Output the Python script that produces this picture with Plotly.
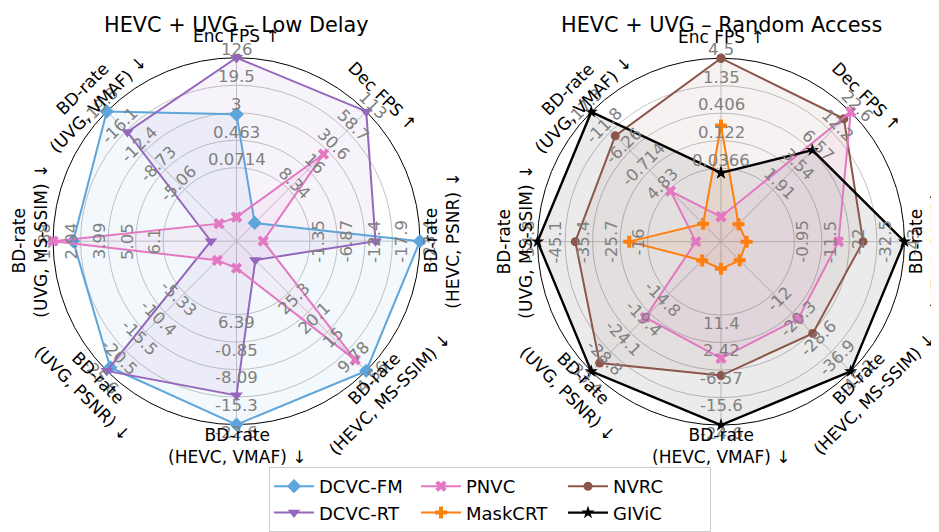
import math
import plotly.graph_objects as go

# page is photographed at 939x532; the html body adds an 8px margin
PAGE_W, PAGE_H, OFF = 939, 532, 8
FW, FH = PAGE_W - OFF, PAGE_H - OFF

# ---------------- data ----------------
categories = ["Enc FPS ↑", "Dec FPS ↑", "BD-rate (HEVC, PSNR) ↓", "BD-rate (HEVC, MS-SSIM) ↓",
              "BD-rate (HEVC, VMAF) ↓", "BD-rate (UVG, PSNR) ↓", "BD-rate (UVG, MS-SSIM) ↓",
              "BD-rate (UVG, VMAF) ↓"]
category_text = ["Enc FPS ↑", "Dec FPS ↑", "BD-rate<br>(HEVC, PSNR) ↓", "BD-rate<br>(HEVC, MS-SSIM) ↓",
                 "BD-rate<br>(HEVC, VMAF) ↓", "BD-rate<br>(UVG, PSNR) ↓", "BD-rate<br>(UVG, MS-SSIM) ↓",
                 "BD-rate<br>(UVG, VMAF) ↓"]
log_axis = [True, True, False, False, False, False, False, False]

ld_ticks = [
    ["0.0714", "0.463", "3", "19.5", "126"],
    ["8.34", "16", "30.6", "58.7", "113"],
    ["-1.35", "-6.87", "-12.4", "-17.9", "-23.4"],
    ["25.3", "20.1", "15", "9.78", "4.56"],
    ["6.39", "-0.85", "-8.09", "-15.3", "-22.6"],
    ["-5.33", "-10.4", "-15.5", "-20.5", "-25.6"],
    ["6.1", "5.05", "3.99", "2.94", "1.88"],
    ["-5.06", "-8.73", "-12.4", "-16.1", "-19.8"],
]
ra_ticks = [
    ["0.0366", "0.122", "0.406", "1.35", "4.5"],
    ["1.91", "3.54", "6.57", "12.2", "22.6"],
    ["-0.95", "-11.5", "-22", "-32.5", "-43"],
    ["-12", "-20.3", "-28.6", "-36.9", "-45.2"],
    ["11.4", "2.42", "-6.57", "-15.6", "-24.6"],
    ["-14.8", "-19.4", "-24.1", "-28.8", "-33.4"],
    ["-16", "-25.7", "-35.4", "-45.1", "-54.8"],
    ["4.83", "-0.714", "-6.26", "-11.8", "-17.3"],
]

# Low Delay
dcvc_fm_ld = [2.7, 2.7, -23.4, 4.56, -22.6, -24.7, 2.65, -19.8]
dcvc_rt_ld = [126, 113, -14.5, 34.1, -14.9, -25.6, 7.93, -15.9]
pnvc_ld = [0.0025, 27.0, 8.0, 7.5, 18.6, 3.2, 1.88, 1.45]

# Random Access
nvrc_ra = [4.5, 18.2, -27.2, -29.0, -8.4, -31.4, -41.5, -10.5]
pnvc_ra = [0.0044, 22.6, -17.8, -22.8, -2.76, -20.5, 1.0, 5.2]
maskcrt_ra = [0.235, 0.641, 17.3, 2.16, 26.5, -6.9, -22.5, 14.5]
givic_ra = [0.030, 6.71, -43.0, -45.2, -24.6, -33.4, -54.8, -17.3]

titles = ["HEVC + UVG – Low Delay", "HEVC + UVG – Random Access"]

colors = {"DCVC-FM": "#5DA5DA", "DCVC-RT": "#9467bd", "PNVC": "#e377c2",
          "MaskCRT": "#ff7f0e", "NVRC": "#8c564b", "GIViC": "#000000"}
symbols = {"DCVC-FM": "diamond", "DCVC-RT": "triangle-down", "PNVC": "x",
           "MaskCRT": "cross", "NVRC": "circle", "GIViC": "star"}
msizes = {"DCVC-FM": 11, "DCVC-RT": 11, "PNVC": 10, "MaskCRT": 10, "NVRC": 9, "GIViC": 10}
groups = {"DCVC-FM": "c1", "DCVC-RT": "c1", "PNVC": "c2", "MaskCRT": "c2", "NVRC": "c3", "GIViC": "c3"}

RING_V = [0.4, 0.55, 0.7, 0.85, 1.0]


def g(x, is_log):
    return math.log10(x) if is_log else x


def norm(values, ticks):
    out = []
    for i, x in enumerate(values):
        a = g(float(ticks[i][0]), log_axis[i])
        b = g(float(ticks[i][-1]), log_axis[i])
        out.append(RING_V[0] + (RING_V[-1] - RING_V[0]) * (g(x, log_axis[i]) - a) / (b - a))
    return out


def rgba(hexc, a):
    hexc = hexc.lstrip("#")
    r, gg, b = int(hexc[0:2], 16), int(hexc[2:4], 16), int(hexc[4:6], 16)
    return f"rgba({r},{gg},{b},{a})"


def px(sx):
    return (sx - OFF) / FW


def py(sy):
    return 1 - (sy - OFF) / FH


# geometry (page pixels)
R = 184.5
centers = [(236.5, 242.5), (721.0, 243.0)]

fig = go.Figure()

panels = [
    ("polar", ld_ticks, [("DCVC-FM", dcvc_fm_ld), ("DCVC-RT", dcvc_rt_ld), ("PNVC", pnvc_ld)]),
    ("polar2", ra_ticks, [("NVRC", nvrc_ra), ("PNVC", pnvc_ra), ("MaskCRT", maskcrt_ra), ("GIViC", givic_ra)]),
]

shown = set()
for sub, ticks, series in panels:
    for name, vals in series:
        r = norm(vals, ticks)
        rr = r + [r[0]]
        th = categories + [categories[0]]
        fig.add_trace(go.Scatterpolar(r=rr, theta=th, subplot=sub, mode="lines",
                                      line=dict(width=0, color=rgba(colors[name], 0)),
                                      fill="toself", fillcolor=rgba(colors[name], 0.08),
                                      showlegend=False, hoverinfo="skip"))
    for name, vals in series:
        r = norm(vals, ticks)
        rr = r + [r[0]]
        th = categories + [categories[0]]
        lw = 2.4 if name == "GIViC" else 2
        fig.add_trace(go.Scatterpolar(r=rr, theta=th, subplot=sub, mode="lines+markers", name=name,
                                      line=dict(width=lw, color=colors[name]),
                                      marker=dict(symbol=symbols[name], size=msizes[name],
                                                  color=colors[name]),
                                      legendgroup=groups[name],
                                      showlegend=name not in shown))
        shown.add(name)

angular = dict(type="category", categoryarray=categories, direction="clockwise", rotation=90,
               showticklabels=False, ticks="", showgrid=True, gridcolor="#c4c4c4", gridwidth=0.8,
               showline=True, linecolor="black", linewidth=1, layer="below traces")
radial = dict(range=[0, 1], tickvals=RING_V, showticklabels=False, ticks="", showline=False,
              showgrid=True, gridcolor="#c4c4c4", gridwidth=0.8, layer="below traces")


def dom(cx, cy):
    return dict(x=[px(cx - R), px(cx + R)], y=[py(cy + R), py(cy - R)])


fig.update_layout(
    polar=dict(domain=dom(*centers[0]), angularaxis=angular, radialaxis=radial, bgcolor="white"),
    polar2=dict(domain=dom(*centers[1]), angularaxis=angular, radialaxis=radial, bgcolor="white"),
)

annotations = []
text_angles = [0, 45, -90, -45, 0, 45, -90, -45]
n = len(categories)


def place(cx, cy, phi, rpx):
    return px(cx + rpx * math.sin(phi)), py(cy - rpx * math.cos(phi))


for p, (sub, ticks, series) in enumerate(panels):
    cx, cy = centers[p]
    for i in range(n):
        phi = math.radians(360.0 * i / n)
        for k, v in enumerate(RING_V):
            x, y = place(cx, cy, phi, (v + 0.045) * R)
            annotations.append(dict(x=x, y=y, xref="paper", yref="paper",
                                    text=ticks[i][k], showarrow=False, textangle=text_angles[i],
                                    xanchor="center", yanchor="middle",
                                    font=dict(family="DejaVu Sans", size=16.5, color="#808080")))
        x, y = place(cx, cy, phi, 206)
        annotations.append(dict(x=x, y=y, xref="paper", yref="paper",
                                text=category_text[i], showarrow=False, textangle=text_angles[i],
                                xanchor="center", yanchor="middle",
                                font=dict(family="DejaVu Sans", size=17, color="black")))
    annotations.append(dict(x=px(cx), y=py(25), xref="paper", yref="paper",
                            text=titles[p], showarrow=False, xanchor="center", yanchor="middle",
                            font=dict(family="DejaVu Sans", size=20.8, color="black")))

fig.update_layout(
    width=FW, height=FH,
    margin=dict(l=0, r=0, t=0, b=0),
    paper_bgcolor="white",
    font=dict(family="DejaVu Sans"),
    annotations=annotations,
    legend=dict(orientation="h", traceorder="grouped", x=px(269), xanchor="left",
                y=py(470), yanchor="top", bgcolor="white", bordercolor="#cccccc",
                borderwidth=1, font=dict(family="DejaVu Sans", size=18, color="black"),
                itemwidth=40, entrywidth=92, entrywidthmode="pixels", tracegroupgap=0),
)

fig.write_html("out.html")
